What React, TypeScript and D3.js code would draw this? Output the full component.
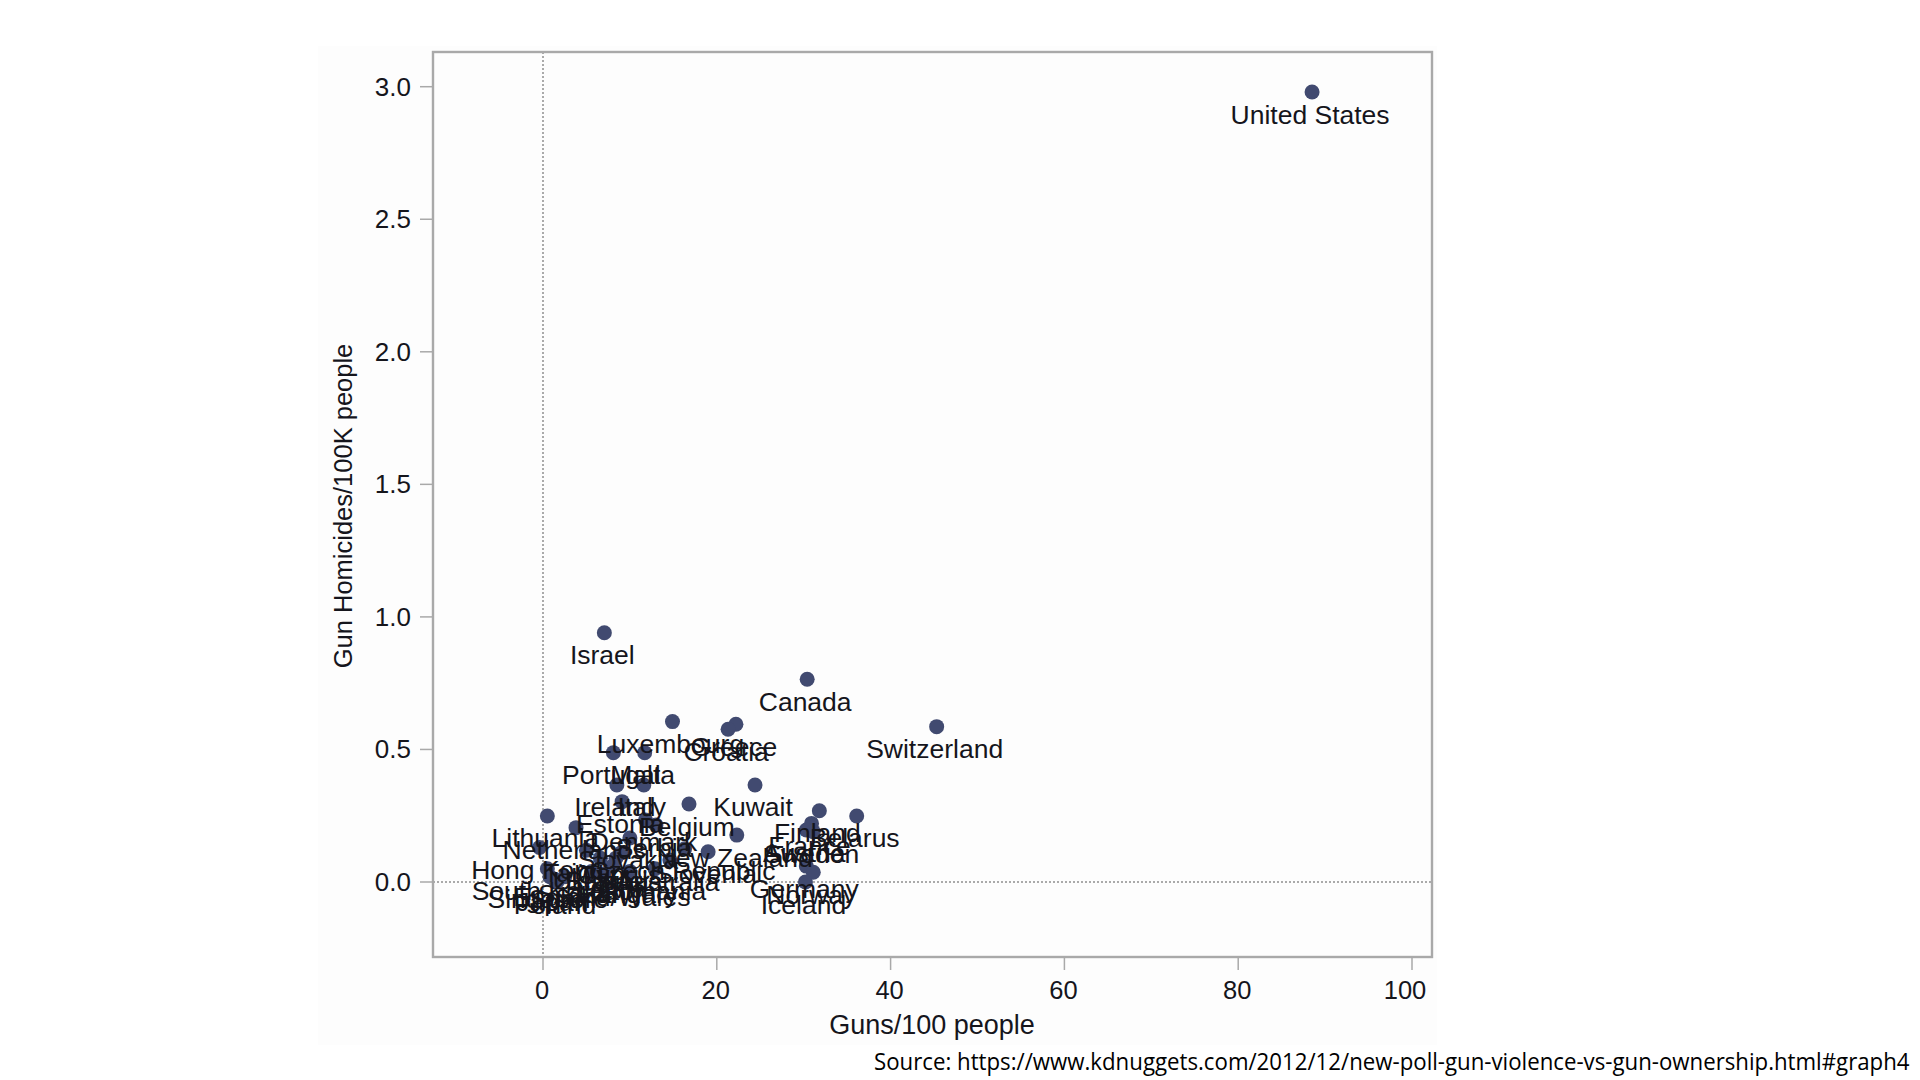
import React from "react";
import * as d3 from "d3";

const countries = ["United States","Israel","Canada","Switzerland","Luxembourg","Greece","Croatia","Portugal","Malta","Kuwait","Ireland","Italy","Belgium","Estonia","Lithuania","Finland","Belarus","Netherlands","Denmark","New Zealand","Czech Republic","France","Austria","Sweden","Germany","Norway","Iceland","Hong Kong","South Korea","Singapore","Japan","Poland","Spain","Scotland","England/Wales","Latvia","Hungary","Romania","Bulgaria","Australia","Slovakia","Slovenia","Taiwan","Ukraine","Cyprus","Serbia"];
const gunsPer100 = [88.5,7.06,30.4,45.3,14.9,22.2,21.3,8.1,11.7,24.4,8.5,11.6,16.8,9.1,0.5,31.8,36.1,3.8,11.8,22.3,16.3,30.9,30.3,31.1,30.3,31.1,30.2,-0.4,0.5,0.8,1.3,1.6,2.5,5.6,7,8,10,12.9,8.4,14.6,10,19,5,6.6,9,13];
const homicidesPer100k = [2.98,0.94,0.765,0.586,0.605,0.595,0.576,0.488,0.488,0.366,0.366,0.366,0.294,0.303,0.249,0.269,0.249,0.205,0.234,0.177,0.125,0.221,0.196,0.19,0.06,0.037,0,0.13,0.05,0.02,0.01,0,0.02,0.04,0.03,0.06,0.04,0.05,0.09,0.083,0.166,0.114,0.12,0.09,0.11,0.215];
const xTickValues = [0,20,40,60,80,100];
const yTickValues = [0,0.5,1,1.5,2,2.5,3];
const xTitle = "Guns/100 people";
const yTitle = "Gun Homicides/100K people";
const source = "Source: https://www.kdnuggets.com/2012/12/new-poll-gun-violence-vs-gun-ownership.html#graph4";

const x = d3.scaleLinear().domain([0,100]).range([543,1412]);
const y = d3.scaleLinear().domain([0,3]).range([882,86.7]);
const frame = { left: 433, right: 1432, top: 52, bottom: 957 };
const sans = "'Liberation Sans', Arial, sans-serif";
const textColor = "#15151c";
const axisColor = "#a9a9a9";

export default function App() {
  const sourceRef = React.useRef<SVGTextElement>(null);
  React.useEffect(() => {
    const el = sourceRef.current;
    if (el) el.setAttribute("transform", `translate(874,1070) scale(${1036 / el.getComputedTextLength()},1)`);
  }, []);
  return (
    <svg width={1920} height={1080} style={{ position: "absolute", left: 0, top: 0, display: "block", background: "#fff" }}>
      <rect x={318} y={46} width={1119} height={999} fill="#fdfdfd" />
      <line x1={x(0)} x2={x(0)} y1={frame.top} y2={frame.bottom} stroke="#8f8f8f" strokeWidth={1.5} strokeDasharray="2 2" />
      <line x1={frame.left} x2={frame.right} y1={y(0)} y2={y(0)} stroke="#8f8f8f" strokeWidth={1.5} strokeDasharray="2 2" />
      <rect x={frame.left} y={frame.top} width={frame.right - frame.left} height={frame.bottom - frame.top} fill="none" stroke={axisColor} strokeWidth={2.4} />
      {xTickValues.map((t) => (
        <g key={t}>
          <line x1={x(t)} x2={x(t)} y1={frame.bottom} y2={frame.bottom + 13} stroke={axisColor} strokeWidth={1.5} />
          <text x={x(t) - (t === 100 ? 7 : 1)} y={frame.bottom + 42} textAnchor="middle" fontFamily={sans} fontSize={25.5} fill={textColor}>{t}</text>
        </g>
      ))}
      {yTickValues.map((t) => (
        <g key={t}>
          <line x1={frame.left - 13} x2={frame.left} y1={y(t)} y2={y(t)} stroke={axisColor} strokeWidth={1.5} />
          <text x={411} y={y(t) + 9} textAnchor="end" fontFamily={sans} fontSize={26} fill={textColor}>{t.toFixed(1)}</text>
        </g>
      ))}
      <text x={932} y={1034} textAnchor="middle" fontFamily={sans} fontSize={27} fill={textColor}>{xTitle}</text>
      <text transform="translate(352,506) rotate(-90)" textAnchor="middle" fontFamily={sans} fontSize={25.5} fill={textColor}>{yTitle}</text>
      {countries.map((c, i) => (
        <circle key={c} cx={x(gunsPer100[i])} cy={y(homicidesPer100k[i])} r={7.5} fill="#414a70" />
      ))}
      {countries.map((c, i) => (
        <text key={c} x={x(gunsPer100[i]) - 2} y={y(homicidesPer100k[i]) + 31.5} textAnchor="middle" fontFamily={sans} fontSize={26.5} fill={textColor}>{c}</text>
      ))}
      <text ref={sourceRef} transform="translate(874,1070) scale(0.9,1)" fontFamily="'Open Sans', sans-serif" fontSize={23} fill="#000">{source}</text>
    </svg>
  );
}
